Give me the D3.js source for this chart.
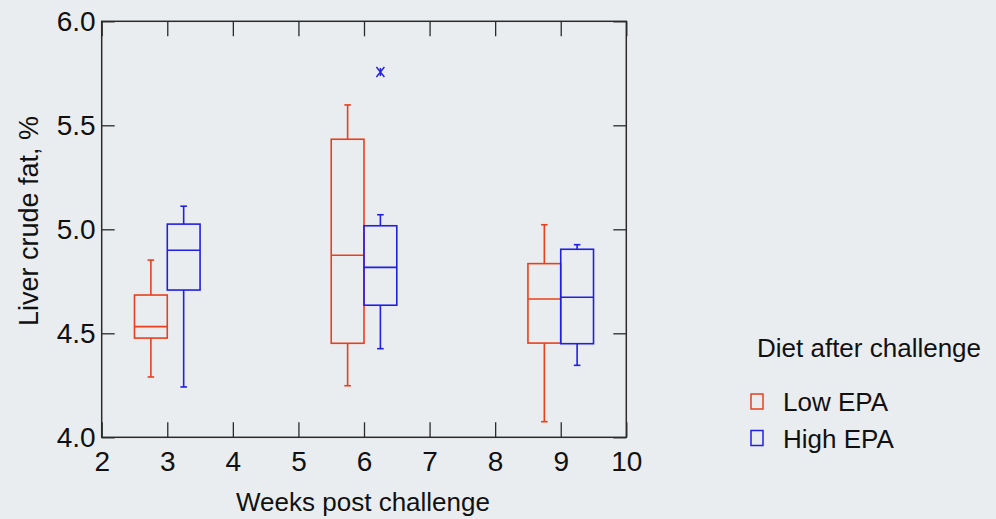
<!DOCTYPE html>
<html>
<head>
<meta charset="utf-8">
<script src="https://cdn.jsdelivr.net/npm/d3@7/dist/d3.min.js"></script>
<style>
  html, body { margin: 0; padding: 0; background: #eaedf0; }
  svg { display: block; }
  text { font-family: "Liberation Sans", Arial, sans-serif; fill: #111; }
</style>
</head>
<body>
<svg id="chart" width="996" height="519"></svg>
<script>
// Sampling weeks and diet groups
const weeks = [3, 6, 9];
const diets = ["Low EPA", "High EPA"];

// Five-number summaries per week, Low EPA diet
const lowMin = [4.29, 4.248, 4.075];
const lowQ1  = [4.477, 4.452, 4.453];
const lowMed = [4.532, 4.875, 4.665];
const lowQ3  = [4.684, 5.433, 4.835];
const lowMax = [4.852, 5.598, 5.022];

// Five-number summaries per week, High EPA diet
const highMin = [4.242, 4.426, 4.346];
const highQ1  = [4.708, 4.635, 4.45];
const highMed = [4.899, 4.817, 4.673];
const highQ3  = [5.025, 5.017, 4.904];
const highMax = [5.111, 5.07, 4.926];

// Points beyond the whiskers
const highOutlierWeeks = [6];
const highOutlierValues = [5.756];

// Axis ticks
const xTicks = [2, 3, 4, 5, 6, 7, 8, 9, 10];
const yTicks = [4.0, 4.5, 5.0, 5.5, 6.0];

const colors = { "Low EPA": "#e8401c", "High EPA": "#1f1fe6" };

const svg = d3.select("#chart");
const plotLeft = 101.7, plotRight = 626.3, plotTop = 21.3, plotBottom = 437.3;

const x = d3.scaleLinear().domain([2, 10]).range([plotLeft, plotRight]);
const y = d3.scaleLinear().domain([4, 6]).range([plotBottom, plotTop]);

// Frame
svg.append("rect")
  .attr("x", plotLeft).attr("y", plotTop)
  .attr("width", plotRight - plotLeft).attr("height", plotBottom - plotTop)
  .attr("fill", "none").attr("stroke", "#2a2a2a").attr("stroke-width", 1.5);

// Axes with inward ticks on all four sides
const axStyle = g => {
  g.select(".domain").remove();
  g.selectAll(".tick line").attr("stroke", "#2a2a2a").attr("stroke-width", 1.3);
  g.selectAll(".tick text").style("font-size", "28px")
    .style("font-family", "'Liberation Sans', Arial, sans-serif").attr("fill", "#111");
};

svg.append("g").attr("transform", `translate(0,${plotBottom})`)
  .call(d3.axisBottom(x).tickValues(xTicks).tickFormat(d3.format("d"))
    .tickSizeInner(-15).tickSizeOuter(0).tickPadding(14))
  .call(axStyle);

svg.append("g").attr("transform", `translate(0,${plotTop})`)
  .call(d3.axisTop(x).tickValues(xTicks).tickFormat("")
    .tickSizeInner(-15).tickSizeOuter(0))
  .call(axStyle);

svg.append("g").attr("transform", `translate(${plotLeft},0)`)
  .call(d3.axisLeft(y).tickValues(yTicks).tickFormat(d3.format(".1f"))
    .tickSizeInner(-13).tickSizeOuter(0).tickPadding(6))
  .call(axStyle);

svg.append("g").attr("transform", `translate(${plotRight},0)`)
  .call(d3.axisRight(y).tickValues(yTicks).tickFormat("")
    .tickSizeInner(-13).tickSizeOuter(0))
  .call(axStyle);

// Axis titles
svg.append("text")
  .attr("x", (plotLeft + plotRight) / 2 - 1).attr("y", 511)
  .attr("text-anchor", "middle").style("font-size", "26px")
  .text("Weeks post challenge");

svg.append("text")
  .attr("transform", `translate(38,221) rotate(-90)`)
  .attr("text-anchor", "middle").style("font-size", "27px")
  .text("Liver crude fat, %");

// Box plots
const groups = [
  { name: "Low EPA", offset: -0.25, min: lowMin, q1: lowQ1, med: lowMed, q3: lowQ3, max: lowMax },
  { name: "High EPA", offset: 0.25, min: highMin, q1: highQ1, med: highMed, q3: highQ3, max: highMax }
];
const halfBox = 0.25;   // box half-width in weeks
const capHalf = 3.3;    // whisker cap half-width in px

groups.forEach(gr => {
  const col = colors[gr.name];
  const g = svg.append("g").attr("stroke", col).attr("stroke-width", 1.6).attr("fill", "none");
  weeks.forEach((w, i) => {
    const cx = x(w + gr.offset);
    const x0 = x(w + gr.offset - halfBox), x1 = x(w + gr.offset + halfBox);
    // whiskers
    g.append("line").attr("x1", cx).attr("x2", cx).attr("y1", y(gr.q3[i])).attr("y2", y(gr.max[i]));
    g.append("line").attr("x1", cx).attr("x2", cx).attr("y1", y(gr.q1[i])).attr("y2", y(gr.min[i]));
    g.append("line").attr("x1", cx - capHalf).attr("x2", cx + capHalf).attr("y1", y(gr.max[i])).attr("y2", y(gr.max[i]));
    g.append("line").attr("x1", cx - capHalf).attr("x2", cx + capHalf).attr("y1", y(gr.min[i])).attr("y2", y(gr.min[i]));
    // box
    g.append("rect").attr("x", x0).attr("y", y(gr.q3[i]))
      .attr("width", x1 - x0).attr("height", y(gr.q1[i]) - y(gr.q3[i]));
    // median
    g.append("line").attr("x1", x0).attr("x2", x1).attr("y1", y(gr.med[i])).attr("y2", y(gr.med[i]));
  });
});

// Outlier markers (asterisk)
const og = svg.append("g").attr("stroke", colors["High EPA"]).attr("stroke-width", 1.4).attr("fill", "none");
highOutlierWeeks.forEach((w, i) => {
  const px = x(w + 0.25), py = y(highOutlierValues[i]);
  og.append("path")
    .attr("d", `M${px - 4},${py - 5}L${px + 4},${py + 5}M${px + 4},${py - 5}L${px - 4},${py + 5}M${px},${py - 4}L${px},${py + 4}`);
});

// Legend
const lg = svg.append("g");
lg.append("text").attr("x", 757).attr("y", 357).style("font-size", "26px").text("Diet after challenge");
diets.forEach((d, i) => {
  const yy = 401.5 + i * 36.5;
  lg.append("rect").attr("x", 751).attr("y", yy - 7.5).attr("width", 12).attr("height", 15)
    .attr("fill", "none").attr("stroke", colors[d]).attr("stroke-width", 1.5);
  lg.append("text").attr("x", 783).attr("y", yy + 9.5).style("font-size", "26px").text(d);
});
</script>
</body>
</html>
